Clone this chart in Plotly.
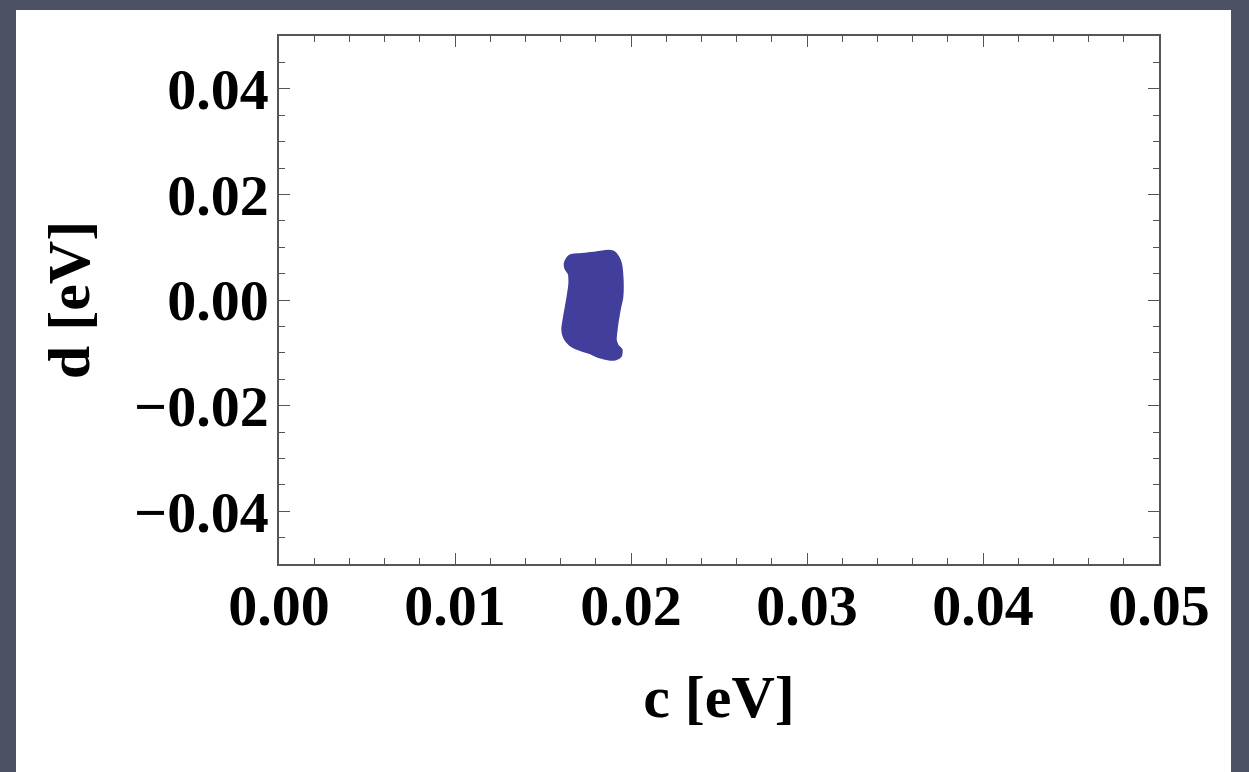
import plotly.graph_objects as go

# Boundary of the allowed (c, d) region, traced counter-clockwise, in eV
c_edge = [0.01632, 0.01645, 0.01658, 0.01710, 0.01790, 0.01875, 0.01902, 0.01922,
          0.01935, 0.01944, 0.01942, 0.01930, 0.01912, 0.01905, 0.01918, 0.01938,
          0.01935, 0.01912, 0.01875, 0.01815, 0.01765, 0.01700, 0.01658, 0.01628,
          0.01618, 0.01624, 0.01632, 0.01648, 0.01658, 0.01655, 0.01636, 0.01632]
d_edge = [0.00690, 0.00780, 0.00820, 0.00840, 0.00865, 0.00905, 0.00880, 0.00790,
          0.00680, 0.00370, 0.00050, -0.00140, -0.00500, -0.00760, -0.00880, -0.00950,
          -0.01050, -0.01095, -0.01100, -0.01050, -0.00975, -0.00905, -0.00830, -0.00705,
          -0.00555, -0.00400, -0.00245, 0.00057, 0.00300, 0.00500, 0.00600, 0.00690]

x_ticks = [0.00, 0.01, 0.02, 0.03, 0.04, 0.05]
x_labels = ["0.00", "0.01", "0.02", "0.03", "0.04", "0.05"]
y_ticks = [-0.04, -0.02, 0.00, 0.02, 0.04]
y_labels = ["\u22120.04", "\u22120.02", "0.00", "0.02", "0.04"]

region_color = "#413f9b"
frame_color = "#555555"
serif = "Liberation Serif"

fig = go.Figure()
fig.add_trace(go.Scatter(
    x=c_edge, y=d_edge, mode="lines", fill="toself",
    fillcolor=region_color,
    line=dict(color=region_color, width=5, shape="spline", smoothing=0.6),
    showlegend=False, hoverinfo="skip",
))

W, H = 1249, 772
L, R, T, B = 279, 90, 36, 208
pw, ph = W - L - R, H - T - B

def px_x(p):
    return (p - L) / pw

def px_y(p):
    return (H - B - p) / ph

axis_common = dict(
    showgrid=False, zeroline=False, showline=True, linecolor=frame_color,
    linewidth=1.5, mirror="ticks", ticks="inside", ticklen=11, tickwidth=1.3,
    tickcolor=frame_color,
    tickfont=dict(family=serif, size=58, color="black", weight="bold"),
)

fig.update_layout(
    width=W, height=H,
    margin=dict(l=L, r=R, t=T, b=B, autoexpand=False),
    paper_bgcolor="#4c5163",
    plot_bgcolor="white",
    shapes=[dict(type="rect", xref="paper", yref="paper", layer="below",
                 x0=px_x(16), x1=px_x(1231), y0=px_y(790), y1=px_y(10),
                 fillcolor="white", line=dict(width=0))],
    xaxis=dict(
        range=[0, 0.05], tickvals=x_ticks, ticktext=x_labels,
        ticklabelstandoff=-10,
        minor=dict(dtick=0.002, ticks="inside", ticklen=6, tickcolor=frame_color),
        title=dict(text="c [eV]", standoff=38,
                   font=dict(family=serif, size=60, color="black", weight="bold")),
        automargin=False,
        **axis_common,
    ),
    yaxis=dict(
        range=[-0.05, 0.05], tickvals=y_ticks, ticktext=y_labels,
        ticklabelstandoff=-3,
        minor=dict(dtick=0.005, ticks="inside", ticklen=6, tickcolor=frame_color),
        title=dict(text="d [eV]", standoff=25,
                   font=dict(family=serif, size=60, color="black", weight="bold")),
        automargin=False,
        **axis_common,
    ),
)

fig.write_html("out.html")
